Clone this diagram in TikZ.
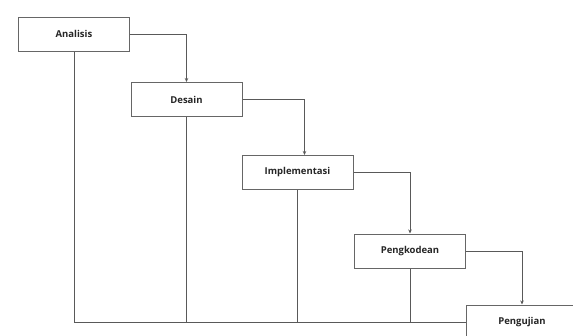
\documentclass[tikz,border=0pt]{standalone}
\usepackage{fontspec}
\setmainfont{Open Sans}
\usetikzlibrary{arrows.meta}
\begin{document}
\begin{tikzpicture}[x=1pt,y=-1pt,
  stepbox/.style={draw=black!60,line width=1pt,fill=white,minimum width=111pt,minimum height=34pt,inner sep=0pt,font=\bfseries\fontsize{9.5}{11}\selectfont,text=black!85},
  conn/.style={draw=black!65,line width=1pt},
  arr/.style={conn,-{Stealth[length=4pt,width=3.5pt]}}]
\useasboundingbox (0,0) rectangle (573,335);
\clip (0,0) rectangle (573,335);
\node[stepbox] (ana) at (74,34) {Analisis};
\node[stepbox] (des) at (186.5,99.5) {Desain};
\node[stepbox] (imp) at (297.5,172.5) {Implementasi};
\node[stepbox] (pkd) at (410,251) {Pengkodean};
\coordinate (base) at (0,322);
% bottom feedback lines
\draw[conn] (ana.south) |- (466,322) coordinate (bend);
\draw[conn] (des.south) -- (des.south |- base);
\draw[conn] (imp.south) -- (imp.south |- base);
\draw[conn] (pkd.south) -- (pkd.south |- base);
\node[stepbox,minimum width=112pt] (puj) at (522,322) {Pengujian};
% forward arrows
\draw[arr] (ana.east) -| (des.north);
\draw[arr] (des.east) -| ([xshift=7pt]imp.north);
\draw[arr] (imp.east) -| (pkd.north);
\draw[arr] (pkd.east) -| (puj.north);
\end{tikzpicture}
\end{document}
